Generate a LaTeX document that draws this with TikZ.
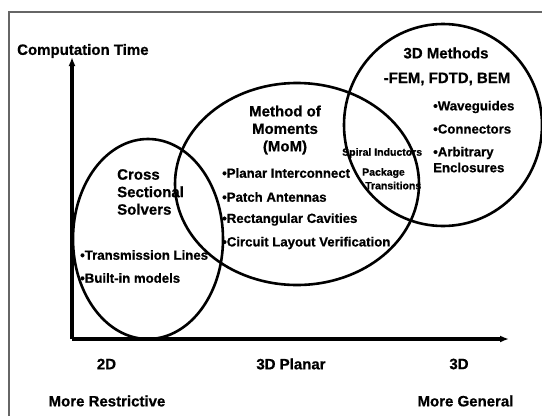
\documentclass[tikz,border=0pt]{standalone}
\usepackage{fontspec}
\setmainfont{Liberation Sans}[BoldFeatures={FakeBold=0.7}]
\usetikzlibrary{arrows.meta}

\begin{document}
\begin{tikzpicture}
	[x=1pt,y=-1pt,
	head/.style={font=\fontsize{15}{17.5}\selectfont\bfseries, inner sep=0pt},
	item/.style={font=\fontsize{13.2}{15}\selectfont\bfseries, inner sep=0pt, anchor=west},
	tiny/.style={font=\fontsize{10.5}{12}\selectfont\bfseries, inner sep=0pt, anchor=west},
	region/.style={line width=2.6pt}]

	\useasboundingbox (0,0) rectangle (542,416);

	%Frame
	\draw[draw=gray!80!black, line width=2pt] (9,416) -- (9,12) -- (542,12);

	%Axis
	\coordinate (o) at (72,339);
	\coordinate (x) at (509,339);
	\coordinate (y) at (72,57);
	\draw[line width=3.2pt,-{Latex[length=9pt,width=7pt]}] (o)--(x);
	\draw[line width=3.2pt,-{Latex[length=9pt,width=7pt]}] (o)--(y);
	\node[head, anchor=west] (time) at (17,51) {Computation Time};
	\node[head] (twoD) at (106.5,364) {2D};
	\node[head] (planar) at (291,364) {3D Planar};
	\node[head] (threeD) at (459,364) {3D};
	\node[head] (restrict) at (107,401) {More Restrictive};
	\node[head] (general) at (465.5,401) {More General};

	%Regions
	\coordinate (cs) at (148,239);
	\coordinate (mom) at (297,184);
	\coordinate (fem) at (443,125);
	\draw[region] (cs) ellipse [x radius=75, y radius=100];
	\draw[region] (mom) ellipse [x radius=122, y radius=101];
	\draw[region] (fem) ellipse [x radius=99, y radius=101];

	%Cross sectional
	\node[head, anchor=west, align=left] (csTitle) at (117,192) {Cross\\Sectional\\Solvers};
	\node[item] (lines) at (80,255) {•Transmission Lines};
	\node[item] (models) at (80,278) {•Built-in models};

	%Method of moments
	\node[head, align=center] (momTitle) at (285,130) {Method of\\Moments\\(MoM)};
	\node[item] (planarIC) at (222,173) {•Planar Interconnect};
	\node[item] (patch) at (222,197) {•Patch Antennas};
	\node[item] (cavity) at (222,219.5) {•Rectangular Cavities};
	\node[item] (layout) at (222,243) {•Circuit Layout Verification};

	%Overlap
	\node[tiny] (spiral) at (342,153) {Spiral Inductors};
	\node[tiny] (package) at (362,173) {Package};
	\node[tiny] (trans) at (365,185.5) {Transitions};

	%3D methods
	\node[head] (femTitle) at (446,53) {3D Methods};
	\node[head] (femList) at (447,79) {-FEM, FDTD, BEM};
	\node[item] (guide) at (433,107) {•Waveguides};
	\node[item] (conn) at (433,129) {•Connectors};
	\node[item] (arb) at (433,153) {•Arbitrary};
	\node[item] (encl) at (433,167.5) {Enclosures};
\end{tikzpicture}
\end{document}
